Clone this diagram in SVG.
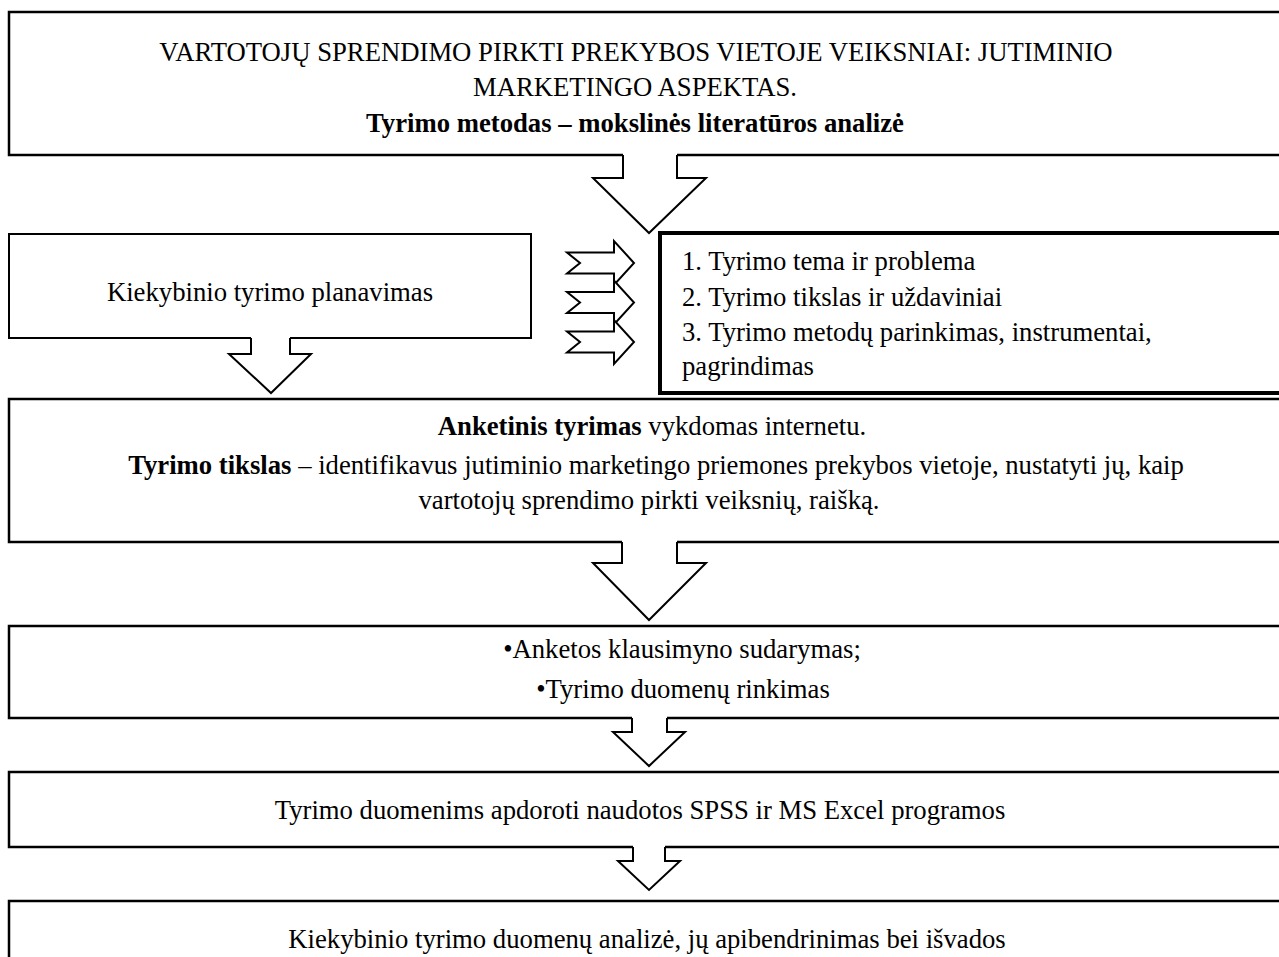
<svg xmlns="http://www.w3.org/2000/svg" width="1279" height="957" viewBox="0 0 1279 957">
<style>
.box{fill:#fff;stroke:#000;stroke-width:2.5}
.thin{fill:#fff;stroke:#000;stroke-width:2}
.thick{fill:#fff;stroke:#000;stroke-width:4}
.afill{fill:#fff;stroke:none}
.aline{fill:none;stroke:#000;stroke-width:2;stroke-linejoin:miter}
.sarrow{fill:#fff;stroke:#000;stroke-width:2;stroke-linejoin:miter}
text{font-family:"Liberation Serif","Times New Roman",serif;font-size:26.7px;fill:#000}
.c{text-anchor:middle}
.b{font-weight:bold}
</style>
<rect width="1279" height="957" fill="#fff"/>
<g id="node-title">
<rect class="box" x="9" y="12" width="1300" height="143"/>
<text class="c" x="636" y="61">VARTOTOJŲ SPRENDIMO PIRKTI PREKYBOS VIETOJE VEIKSNIAI: JUTIMINIO</text>
<text class="c" x="635" y="96">MARKETINGO ASPEKTAS.</text>
<text class="c b" x="635" y="132">Tyrimo metodas – mokslinės literatūros analizė</text>
</g>
<g id="node-planning">
<rect class="thin" x="9" y="234" width="522" height="104"/>
<text class="c" x="270" y="301">Kiekybinio tyrimo planavimas</text>
</g>
<g id="node-steps">
<rect class="thick" x="660" y="233" width="700" height="160"/>
<text x="682" y="270">1. Tyrimo tema ir problema</text>
<text x="682" y="306">2. Tyrimo tikslas ir uždaviniai</text>
<text x="682" y="341">3. Tyrimo metodų parinkimas, instrumentai,</text>
<text x="682" y="375">pagrindimas</text>
</g>
<g id="node-survey">
<rect class="box" x="9" y="399" width="1300" height="143"/>
<text class="c" x="652" y="435"><tspan class="b">Anketinis tyrimas</tspan> vykdomas internetu.</text>
<text class="c" x="656" y="474"><tspan class="b">Tyrimo tikslas</tspan> – identifikavus jutiminio marketingo priemones prekybos vietoje, nustatyti jų, kaip</text>
<text class="c" x="649" y="509">vartotojų sprendimo pirkti veiksnių, raišką.</text>
</g>
<g id="node-collection">
<rect class="box" x="9" y="626" width="1300" height="92"/>
<text class="c" x="682" y="658">•Anketos klausimyno sudarymas;</text>
<text class="c" x="683" y="698">•Tyrimo duomenų rinkimas</text>
</g>
<g id="node-processing">
<rect class="box" x="9" y="772" width="1300" height="75"/>
<text class="c" x="640" y="819">Tyrimo duomenims apdoroti naudotos SPSS ir MS Excel programos</text>
</g>
<g id="node-analysis">
<rect class="box" x="9" y="901" width="1300" height="80"/>
<text class="c" x="647" y="948">Kiekybinio tyrimo duomenų analizė, jų apibendrinimas bei išvados</text>
</g>
<g id="connectors">
<path class="afill" d="M623 152 L677 152 L677 178 L706 178 L649 233 L593 178 L623 178 Z"/>
<path class="aline" d="M623 155 L623 178 L593 178 L649 233 L706 178 L677 178 L677 155"/>
<path class="afill" d="M251 336 L290 336 L290 354 L311 354 L271 393 L229 354 L251 354 Z"/>
<path class="aline" d="M251 338 L251 354 L229 354 L271 393 L311 354 L290 354 L290 338"/>
<path class="afill" d="M622 539 L677 539 L677 563 L706 563 L649 620 L593 563 L622 563 Z"/>
<path class="aline" d="M622 542 L622 563 L593 563 L649 620 L706 563 L677 563 L677 542"/>
<path class="afill" d="M632 715 L667 715 L667 732 L685 732 L649 766 L613 732 L632 732 Z"/>
<path class="aline" d="M632 718 L632 732 L613 732 L649 766 L685 732 L667 732 L667 718"/>
<path class="afill" d="M633 844 L665 844 L665 861 L680 861 L649 890 L618 861 L633 861 Z"/>
<path class="aline" d="M633 847 L633 861 L618 861 L649 890 L680 861 L665 861 L665 847"/>
<path class="sarrow" d="M567 252.5 L614 252.5 L614 241 L634 263 L614 285 L614 273.5 L567 273.5 L580 263 Z"/>
<path class="sarrow" d="M567 292 L614 292 L614 280.5 L634 302.5 L614 324.5 L614 313 L567 313 L580 302.5 Z"/>
<path class="sarrow" d="M567 331.5 L614 331.5 L614 320 L634 342 L614 364 L614 352.5 L567 352.5 L580 342 Z"/>
</g>
</svg>
